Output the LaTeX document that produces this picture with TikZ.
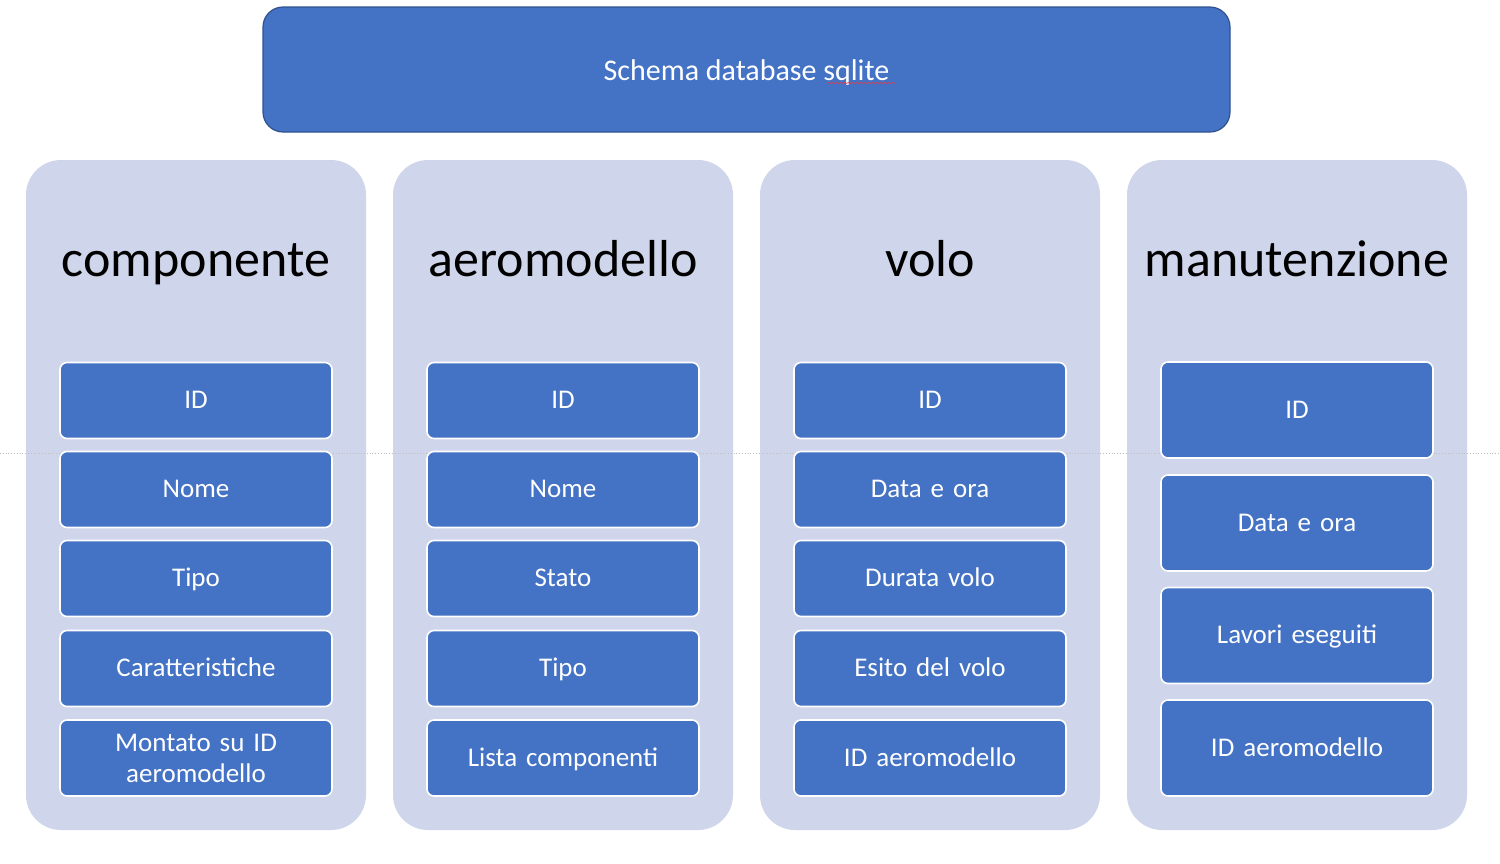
\documentclass[tikz,border=0pt]{standalone}
\usepackage{fontspec}
\usetikzlibrary{decorations.pathmorphing}
\setmainfont{Carlito}
\definecolor{boxblue}{HTML}{4472C4}
\definecolor{boxedge}{HTML}{2F528F}
\definecolor{panel}{HTML}{CFD5EA}
\definecolor{dotgray}{HTML}{BFBFBF}
\definecolor{spellred}{HTML}{E04050}
\begin{document}
\begin{tikzpicture}[x=1pt,y=-1pt,
  titlebox/.style={rectangle,rounded corners=20pt,fill=boxblue,draw=boxedge,line width=1.2pt,
    minimum width=967pt,minimum height=125pt,text=white,font=\fontsize{30}{36}\selectfont,inner sep=0pt,
    text height=24pt,text depth=3pt},
  panelbox/.style={rectangle,rounded corners=35pt,fill=panel,draw=none,minimum width=340pt,minimum height=670pt,inner sep=0pt},
  headtext/.style={text=black,font=\fontsize{52}{60}\selectfont,inner sep=0pt,anchor=base},
  fieldbox/.style={rectangle,rounded corners=7pt,fill=boxblue,draw=white,line width=1.6pt,
    minimum width=272pt,text width=262pt,align=center,text=white,font=\fontsize{27}{31}\selectfont,inner sep=0pt},
  oneline/.style={text height=20pt,text depth=4pt},
  shortbox/.style={fieldbox,minimum height=76pt},
  tallbox/.style={fieldbox,minimum height=96pt}]
\fill[white] (0,0) rectangle (1500,863);
\useasboundingbox (0,0) rectangle (1500,863);
\node[titlebox] (title) at (746.5,69.5) {Schema database sqlite};
\coordinate (sq1) at (827,83);
\coordinate (sq2) at (895,83);
\draw[spellred,line width=0.6pt,decorate,decoration={snake,amplitude=0.6pt,segment length=4pt}] (sq1) -- (sq2);
\node[panelbox] (p1) at (196,495) {};
\node[panelbox] (p2) at (563,495) {};
\node[panelbox] (p3) at (930,495) {};
\node[panelbox] (p4) at (1297,495) {};
\coordinate (dl) at (0,453);
\coordinate (dr) at (1500,453);
\draw[dotgray,dotted,line width=0.8pt] (dl) -- (dr);
\node[headtext] (h1) at (196,276) {componente};
\node[headtext] (h2) at (563,276) {aeromodello};
\node[headtext] (h3) at (930,276) {volo};
\node[headtext] (h4) at (1297,276) {manutenzione};
% column 1
\node[shortbox,oneline] (a1) at (196,400.5) {ID};
\node[shortbox,oneline] (a2) at (196,489.5) {Nome};
\node[shortbox,oneline] (a3) at (196,578.5) {Tipo};
\node[shortbox,oneline] (a4) at (196,668.5) {Caratteristiche};
\node[shortbox] (a5) at (196,758) {Montato su ID\\aeromodello};
% column 2
\node[shortbox,oneline] (b1) at (563,400.5) {ID};
\node[shortbox,oneline] (b2) at (563,489.5) {Nome};
\node[shortbox,oneline] (b3) at (563,578.5) {Stato};
\node[shortbox,oneline] (b4) at (563,668.5) {Tipo};
\node[shortbox,oneline] (b5) at (563,758) {Lista componenti};
% column 3
\node[shortbox,oneline] (c1) at (930,400.5) {ID};
\node[shortbox,oneline] (c2) at (930,489.5) {Data e ora};
\node[shortbox,oneline] (c3) at (930,578.5) {Durata volo};
\node[shortbox,oneline] (c4) at (930,668.5) {Esito del volo};
\node[shortbox,oneline] (c5) at (930,758) {ID aeromodello};
% column 4
\node[tallbox,oneline] (d1) at (1297,410) {ID};
\node[tallbox,oneline] (d2) at (1297,523) {Data e ora};
\node[tallbox,oneline] (d3) at (1297,635.5) {Lavori eseguiti};
\node[tallbox,oneline] (d4) at (1297,748) {ID aeromodello};
\end{tikzpicture}
\end{document}
